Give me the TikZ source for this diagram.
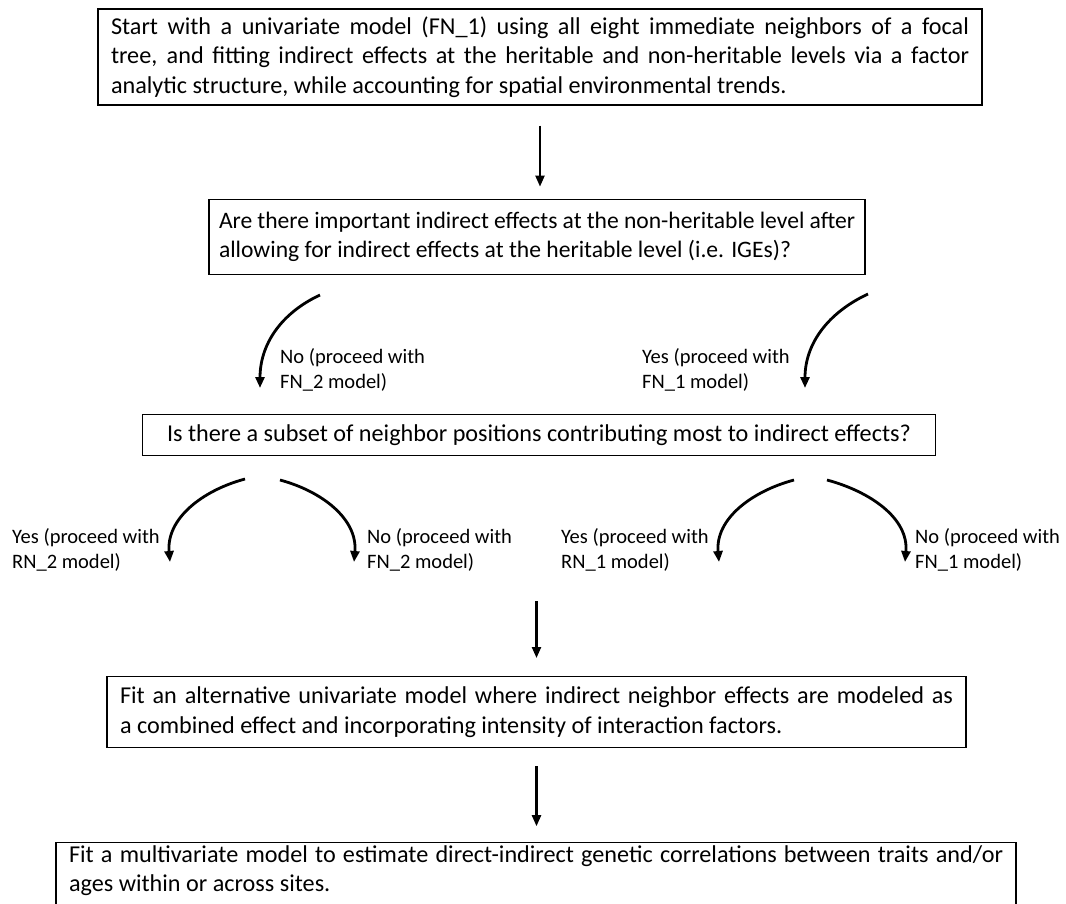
\documentclass[tikz,border=0pt]{standalone}
\usepackage{fontspec}
\setmainfont{Carlito}
\usetikzlibrary{arrows.meta,positioning}
\hyphenpenalty=10000

\begin{document}
\begin{tikzpicture}[x=1pt,y=1pt,node distance=93pt,
    b/.style={draw,line width=1.2pt,align=justify,font=\fontsize{24.2}{29.5}\selectfont,inner xsep=13pt,inner ysep=0pt},
    lab/.style={align=left,font=\fontsize{20.5}{25}\selectfont,inner sep=0pt,anchor=west},
    arr/.style={->,line width=2.2pt},
    carr/.style={->,line width=2.8pt},
    >={Triangle[length=11pt,width=9pt]}]
  \useasboundingbox (0,0) rectangle (1066,-903);
  \node[b,text width=858pt,minimum height=96pt] (start) at (540,-57) {Start with a univariate model (FN\_1) using all eight immediate neighbors of a focal\linebreak tree, and fitting indirect effects at the heritable and non-heritable levels via a factor\linebreak analytic structure, while accounting for spatial environmental trends.};
  \node[b,font=\fontsize{23.6}{29.5}\selectfont,text width=636pt,inner xsep=10pt,minimum height=75pt,below=93pt of start,xshift=-3pt] (q1) {Are there important indirect effects at the non-heritable level after\linebreak allowing for indirect effects at the heritable level (i.e. IGEs)?};
  \node[b,align=center,minimum width=793pt,minimum height=41pt,below=139pt of q1,xshift=2pt] (q2) {Is there a subset of neighbor positions contributing most to indirect effects?};
  \node[b,text width=833pt,minimum height=71pt,below=220pt of q2,xshift=-2.5pt] (alt) {Fit an alternative univariate model where indirect neighbor effects are modeled as\linebreak a combined effect and incorporating intensity of interaction factors.};
  \node[b,text width=934pt,inner ysep=2.5pt,below=94pt of alt,xshift=-0.5pt] (multi) {Fit a multivariate model to estimate direct-indirect genetic correlations between traits and/or\linebreak ages within or across sites.\par\rule{0pt}{20pt}};
  \draw[arr,shorten <=20pt,shorten >=12pt] (start.south) -- (start.south |- q1.north);
  \draw[arr,shorten <=145pt,shorten >=18pt] (alt.north |- q2.south) -- (alt.north);
  \draw[arr,shorten <=18pt,shorten >=16pt] (alt.south) -- (alt.south |- multi.north);
  \coordinate (nos) at (320,-295); \coordinate (noe) at (260,-388);
  \coordinate (yess) at (868,-294); \coordinate (yese) at (805,-388);
  \draw[carr] (nos) to[out=205,in=90] (noe);
  \draw[carr] (yess) to[out=205,in=90] (yese);
  \node[lab] (nol) at (280,-370) {No (proceed with\\FN\_2 model)};
  \node[lab] (yesl) at (642,-370) {Yes (proceed with\\FN\_1 model)};
  \coordinate (rn2s) at (245,-479); \coordinate (rn2e) at (170,-562);
  \coordinate (fn2s) at (280,-480); \coordinate (fn2e) at (354,-562);
  \coordinate (rn1s) at (794,-480); \coordinate (rn1e) at (719,-562);
  \coordinate (fn1s) at (827,-480); \coordinate (fn1e) at (905,-562);
  \draw[carr] (rn2s) to[out=195,in=95] (rn2e);
  \draw[carr] (fn2s) to[out=-15,in=85] (fn2e);
  \draw[carr] (rn1s) to[out=195,in=95] (rn1e);
  \draw[carr] (fn1s) to[out=-15,in=85] (fn1e);
  \node[lab] (rn2l) at (12,-549.5) {Yes (proceed with\\RN\_2 model)};
  \node[lab] (fn2l) at (367,-549.5) {No (proceed with\\FN\_2 model)};
  \node[lab] (rn1l) at (561,-549.5) {Yes (proceed with\\RN\_1 model)};
  \node[lab] (fn1l) at (915,-549.5) {No (proceed with\\FN\_1 model)};
\end{tikzpicture}
\end{document}
